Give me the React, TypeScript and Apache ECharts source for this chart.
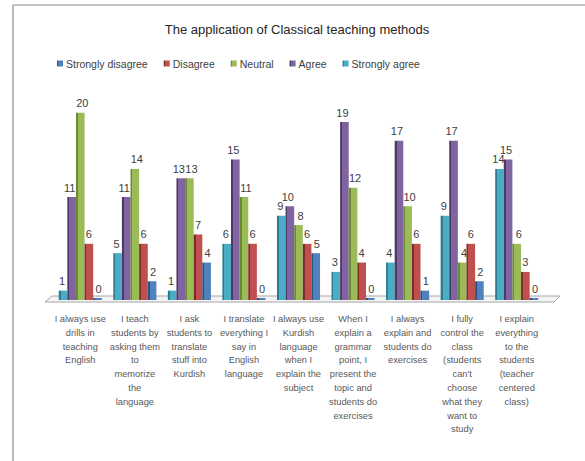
import React, { useEffect, useRef } from "react";
import * as echarts from "echarts";

const categories = [
  "I always use\ndrills in\nteaching\nEnglish",
  "I teach\nstudents by\nasking them\nto\nmemorize\nthe\nlanguage",
  "I ask\nstudents to\ntranslate\nstuff into\nKurdish",
  "I translate\neverything I\nsay in\nEnglish\nlanguage",
  "I always use\nKurdish\nlanguage\nwhen I\nexplain the\nsubject",
  "When I\nexplain a\ngrammar\npoint, I\npresent the\ntopic and\nstudents do\nexercises",
  "I always\nexplain and\nstudents do\nexercises",
  "I fully\ncontrol the\nclass\n(students\ncan't\nchoose\nwhat they\nwant to\nstudy",
  "I explain\neverything\nto the\nstudents\n(teacher\ncentered\nclass)",
];

const stronglyAgree = [1, 5, 1, 6, 9, 3, 4, 9, 14];
const agree = [11, 11, 13, 15, 10, 19, 17, 17, 15];
const neutral = [20, 14, 13, 11, 8, 12, 10, 4, 6];
const disagree = [6, 6, 7, 6, 6, 4, 6, 6, 3];
const stronglyDisagree = [0, 2, 4, 0, 5, 0, 1, 2, 0];

const legendOrder = ["Strongly disagree", "Disagree", "Neutral", "Agree", "Strongly agree"];

const seriesDefs = [
  { name: "Strongly agree", data: stronglyAgree, color: "#4BACC6", dark: "#2E7C91", dx: -1 },
  { name: "Agree", data: agree, color: "#8064A2", dark: "#4B3A62", dx: -2 },
  { name: "Neutral", data: neutral, color: "#9BBB59", dark: "#6B8A32", dx: 2 },
  { name: "Disagree", data: disagree, color: "#C0504D", dark: "#7E2C2A", dx: 0 },
  { name: "Strongly disagree", data: stronglyDisagree, color: "#4F81BD", dark: "#2D5181", dx: 1 },
];

export default function App() {
  const ref = useRef<HTMLDivElement>(null);
  useEffect(() => {
    if (!ref.current) return;
    const chart = echarts.init(ref.current, undefined, { renderer: "svg" });
    const font = "'Liberation Sans', Arial, sans-serif";
    chart.setOption({
      animation: false,
      backgroundColor: "#ffffff",
      title: {
        text: "The application of Classical teaching methods",
        left: 292,
        textAlign: "center",
        top: 18,
        textStyle: { fontSize: 13, fontWeight: "normal", color: "#262626", fontFamily: font },
      },
      legend: {
        data: legendOrder.map((n) => ({ name: n, icon: "rect" })),
        top: 53,
        left: 52,
        itemWidth: 6,
        itemHeight: 6,
        itemGap: 16,
        textStyle: { fontSize: 10.5, color: "#404040", fontFamily: font, padding: [0, 0, 0, -2] },
      },
      grid: { left: 53, right: 41, top: 94, bottom: 161, containLabel: false },
      xAxis: {
        type: "category",
        data: categories,
        axisLine: { show: false },
        axisTick: { show: false },
        axisLabel: {
          interval: 0,
          fontSize: 9.3,
          lineHeight: 13.8,
          color: "#595959",
          fontFamily: font,
          margin: 12,
          verticalAlign: "top",
        },
      },
      yAxis: {
        type: "value",
        min: 0,
        max: 22,
        show: false,
        splitLine: { show: false },
      },
      graphic: [
        { type: "line", shape: { x1: 13, y1: 5, x2: 585, y2: 5 }, style: { stroke: "#8c8c8c", lineWidth: 1.2 }, silent: true },
        { type: "line", shape: { x1: 13, y1: 5, x2: 13, y2: 461 }, style: { stroke: "#8c8c8c", lineWidth: 1.2 }, silent: true },
        {
          type: "polygon",
          shape: { points: [[45, 302], [554, 302], [560, 296], [52, 296]] },
          style: { fill: "#f4f4f4", stroke: "#a6a6a6", lineWidth: 1 },
          silent: true,
          z: 0,
        },
      ],
      series: seriesDefs.map((s) => ({
        name: s.name,
        type: "bar",
        data: s.data,
        barGap: "0%",
        barCategoryGap: "21%",
        barMinHeight: 2,
        z: 3,
        itemStyle: {
          color: {
            type: "linear",
            x: 0,
            y: 0,
            x2: 1,
            y2: 0,
            colorStops: [
              { offset: 0, color: s.dark },
              { offset: 0.22, color: s.dark },
              { offset: 0.22, color: s.color },
              { offset: 1, color: s.color },
            ],
          },
        },
        label: {
          show: true,
          position: "top",
          distance: 4,
          offset: [s.dx, 0],
          fontSize: 11,
          color: "#404040",
          fontFamily: font,
        },
      })),
      color: seriesDefs.map((s) => s.color),
    });
    return () => chart.dispose();
  }, []);
  return <div ref={ref} style={{ width: 585, height: 461, position: "absolute", left: 0, top: 0 }} />;
}
